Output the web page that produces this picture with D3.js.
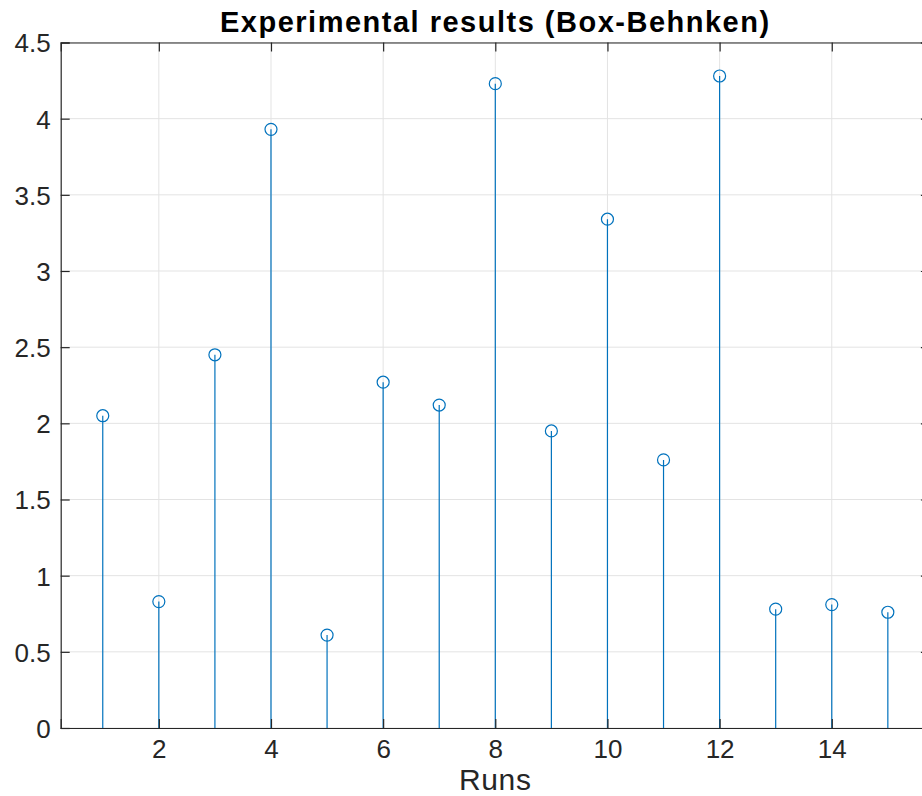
<!DOCTYPE html>
<html>
<head>
<meta charset="utf-8">
<script src="https://cdn.jsdelivr.net/npm/d3@7"></script>
<style>
  html, body { margin: 0; padding: 0; background: #fff; }
  svg { display: block; font-family: "Liberation Sans", Arial, Helvetica, sans-serif; }
</style>
</head>
<body>
<svg id="chart" width="922" height="796"></svg>
<script>
// Run numbers and measured response for each run
const runs = [1, 2, 3, 4, 5, 6, 7, 8, 9, 10, 11, 12, 13, 14, 15];
const results = [2.05, 0.83, 2.45, 3.93, 0.61, 2.27, 2.12, 4.23, 1.95, 3.34, 1.76, 4.28, 0.78, 0.81, 0.76];
const xTicks = [2, 4, 6, 8, 10, 12, 14];
const yTicks = [0, 0.5, 1, 1.5, 2, 2.5, 3, 3.5, 4, 4.5];
const titleText = "Experimental results (Box-Behnken)";
const xLabelText = "Runs";

const svg = d3.select("#chart");
const plotLeft = 60.7, plotRight = 929.9, plotTop = 42.5, plotBottom = 728;
const axisColor = "#262626";
const stemColor = "#0072BD";

const x = d3.scaleLinear().domain([0.25, 15.75]).range([plotLeft, plotRight]);
const y = d3.scaleLinear().domain([0, 4.5]).range([plotBottom, plotTop]);

// Grid lines
const grid = svg.append("g").attr("stroke", "#e3e3e3").attr("stroke-width", 1);
grid.selectAll("line.gx").data(xTicks).join("line")
  .attr("class", "gx")
  .attr("x1", d => x(d)).attr("x2", d => x(d))
  .attr("y1", plotTop).attr("y2", plotBottom);
grid.selectAll("line.gy").data(yTicks).join("line")
  .attr("class", "gy")
  .attr("x1", plotLeft).attr("x2", plotRight)
  .attr("y1", d => y(d)).attr("y2", d => y(d));

// Stems and markers
const stems = svg.append("g");
stems.selectAll("line").data(runs).join("line")
  .attr("x1", d => x(d)).attr("x2", d => x(d))
  .attr("y1", y(0)).attr("y2", (d, i) => y(results[i]))
  .attr("stroke", stemColor).attr("stroke-width", 1.2);
stems.selectAll("circle").data(runs).join("circle")
  .attr("cx", d => x(d)).attr("cy", (d, i) => y(results[i]))
  .attr("r", 6)
  .attr("fill", "none").attr("stroke", stemColor).attr("stroke-width", 1.2);

// Axes with inward ticks (box on)
const tickLen = 9;
const xAxisB = d3.axisBottom(x).tickValues(xTicks).tickSize(-tickLen).tickPadding(12).tickFormat(d3.format("d"));
const xAxisT = d3.axisTop(x).tickValues(xTicks).tickSize(-tickLen).tickFormat("");
const yAxisL = d3.axisLeft(y).tickValues(yTicks).tickSize(-tickLen).tickPadding(10).tickFormat(d => d3.format("")(d));
const yAxisR = d3.axisRight(y).tickValues(yTicks).tickSize(-tickLen).tickFormat("");

function styleAxis(g) {
  g.select(".domain").attr("stroke", axisColor).attr("stroke-width", 1.2);
  g.selectAll(".tick line").attr("stroke", axisColor).attr("stroke-width", 1.2);
  g.selectAll(".tick text").attr("fill", axisColor).attr("font-size", 26)
    .attr("font-family", "\"Liberation Sans\", Arial, sans-serif");
}

svg.append("g").attr("transform", `translate(0,${plotBottom})`).call(xAxisB).call(styleAxis);
svg.append("g").attr("transform", `translate(0,${plotTop})`).call(xAxisT).call(styleAxis);
svg.append("g").attr("transform", `translate(${plotLeft},0)`).call(yAxisL).call(styleAxis)
  .selectAll(".tick text").attr("dy", "0.36em");
svg.append("g").attr("transform", `translate(${plotRight},0)`).call(yAxisR).call(styleAxis);

// Title and axis label
svg.append("text")
  .attr("x", (plotLeft + plotRight) / 2).attr("y", 32)
  .attr("text-anchor", "middle")
  .attr("font-size", 29).attr("font-weight", "bold").attr("fill", "#000")
  .attr("letter-spacing", 1.5)
  .text(titleText);

svg.append("text")
  .attr("x", (plotLeft + plotRight) / 2).attr("y", 790)
  .attr("text-anchor", "middle")
  .attr("font-size", 30).attr("fill", axisColor)
  .attr("letter-spacing", 0.7)
  .text(xLabelText);
</script>
</body>
</html>
